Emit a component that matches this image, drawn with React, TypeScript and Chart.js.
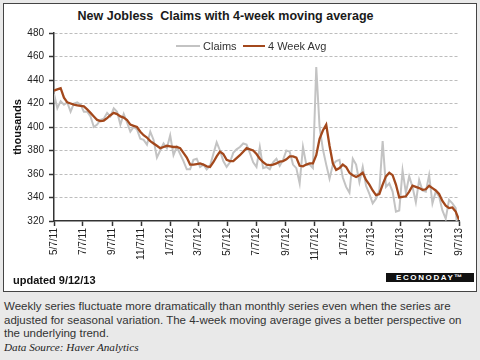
import React, { useEffect, useRef } from "react";
import { Chart, registerables } from "chart.js";

Chart.register(...registerables);

const startDate = "5/7/11";
const tickLabels = ["5/7/11", "7/7/11", "9/7/11", "11/7/11", "1/7/12", "3/7/12", "5/7/12", "7/7/12", "9/7/12", "11/7/12", "1/7/13", "3/7/13", "5/7/13", "7/7/13", "9/7/13"];
const yMin = 320;
const yMax = 480;
const yStep = 20;

// weekly values (thousands), week ending 5/7/11 .. 9/7/13
const claims = [
  428, 416, 422, 419, 421, 413, 420, 421, 419, 413,
  413, 409, 400, 402, 406, 407, 412, 409, 416, 413,
  402, 411, 404, 396, 400, 398, 390, 389, 385, 396,
  389, 374, 380, 386, 382, 393, 376, 383, 377, 371,
  364, 364, 372, 373, 366, 368, 364, 367, 377, 387,
  380, 371, 366, 370, 378, 381, 383, 386, 385, 378,
  370, 366, 383, 365, 366, 364, 370, 373, 367, 372,
  380, 379, 368, 365, 352, 383, 368, 368, 365, 451,
  400, 381, 368, 356, 368, 371, 372, 357, 349, 344,
  373, 368, 353, 366, 350, 343, 335, 339, 346, 388,
  349, 352, 345, 328, 329, 363, 344, 358, 349, 336,
  355, 346, 345, 359, 335, 345, 341, 329, 322, 338,
  335, 331, 292,
];
const avg4 = [
  431, 432, 433, 425, 421, 420, 419, 418.5, 418, 417.5,
  415, 412, 409, 406, 405, 405.5, 407.5, 410, 412, 411,
  409, 408, 406, 402, 401, 400, 396, 393, 391, 388,
  386, 384, 382, 383, 384, 383.5, 383, 383, 382, 378,
  374, 368, 368, 368.5, 369, 368, 366.5, 366, 370, 375,
  379, 377, 372, 371, 371, 373.5, 376, 379, 382, 381,
  380, 377, 373, 370, 368, 367.5, 368, 369, 370.5, 371,
  372.5, 375, 375, 374, 367, 366.5, 368, 369, 369, 376,
  390, 397, 402, 384, 369, 363.5, 365, 368, 366, 361,
  359, 357.5, 359, 361, 355, 351, 346, 342, 343, 351,
  358, 361, 359, 351, 340, 340.5, 341, 345, 350, 349,
  348, 346.5, 347, 350, 348, 346, 343, 337, 333, 331,
  331.5, 328, 321,
];

const titleText = "New Jobless  Claims with 4-week moving average";
const seriesNames = ["Claims", "4 Week Avg"];
const yAxisTitle = "thousands";
const updatedText = "updated 9/12/13";
const logoText = "ECONODAY\u2122";
const noteLines = [
  "Weekly series fluctuate more dramatically than monthly series even when the series are",
  "adjusted for seasonal variation. The 4-week moving average gives a better perspective on",
  "the underlying trend.",
];
const sourceText = "Data Source: Haver Analytics";

const claimsColor = "#c3c3c3";
const avgColor = "#a3481c";
const FONT = 'Arial, "Liberation Sans", sans-serif';

function toUTC(label: string) {
  const [m, d, y] = label.split("/").map(Number);
  return Date.UTC(2000 + y, m - 1, d);
}
const startMs = toUTC(startDate);
const dayOf = (label: string) => Math.round((toUTC(label) - startMs) / 86400000);
const tickDays = tickLabels.map(dayOf);

export default function App() {
  const ref = useRef<HTMLCanvasElement | null>(null);

  useEffect(() => {
    if (!ref.current) return;
    const chart = new Chart(ref.current, {
      type: "line",
      data: {
        datasets: [
          {
            label: seriesNames[0],
            data: claims.map((v, i) => ({ x: i * 7, y: v })),
            borderColor: claimsColor,
            borderWidth: 2,
            pointRadius: 0,
            tension: 0,
            order: 1,
          },
          {
            label: seriesNames[1],
            data: avg4.map((v, i) => ({ x: i * 7, y: v })),
            borderColor: avgColor,
            borderWidth: 2.3,
            pointRadius: 0,
            tension: 0,
            order: 0,
          },
        ],
      },
      options: {
        responsive: false,
        animation: false,
        devicePixelRatio: 1,
        layout: { padding: { top: 33, right: 21, bottom: 0, left: 0 } },
        plugins: {
          legend: { display: false },
          tooltip: { enabled: false },
          title: { display: false },
        },
        scales: {
          x: {
            type: "linear",
            min: 0,
            max: tickDays[tickDays.length - 1],
            afterBuildTicks: (s: any) => {
              s.ticks = tickDays.map((v) => ({ value: v }));
            },
            afterFit: (s: any) => {
              s.height = 79;
            },
            ticks: {
              autoSkip: false,
              maxRotation: 90,
              minRotation: 90,
              padding: 2,
              color: "#222",
              font: { family: FONT, size: 10 },
              callback: (v: any) => {
                const i = tickDays.indexOf(Number(v));
                return i >= 0 ? tickLabels[i] : "";
              },
            },
            grid: {
              drawOnChartArea: false,
              drawTicks: true,
              tickLength: 5,
              tickColor: "#333",
              tickWidth: 1.5,
            },
            border: { display: true, color: "#333", width: 1.5 },
          },
          y: {
            min: yMin,
            max: yMax,
            afterFit: (s: any) => {
              s.width = 54;
            },
            ticks: {
              stepSize: yStep,
              padding: 5,
              color: "#222",
              font: { family: FONT, size: 10 },
            },
            title: {
              display: true,
              text: yAxisTitle,
              color: "#111",
              font: { family: FONT, size: 11, weight: "bold" },
              padding: { top: 11, bottom: 0 },
            },
            grid: {
              color: (c: any) => (c.tick && c.tick.value === yMin ? "rgba(0,0,0,0)" : "#bdbdbd"),
              lineWidth: 1,
              tickLength: 5,
              tickColor: "#333",
              tickWidth: 1.5,
              tickBorderDash: [],
            },
            border: { display: true, color: "#333", width: 1.5, dash: [3, 2] },
          },
        },
      },
    } as any);
    return () => chart.destroy();
  }, []);

  const abs = (s: React.CSSProperties): React.CSSProperties => ({ position: "absolute", ...s });

  return (
    <div style={{ position: "fixed", left: 0, top: 0, width: 480, height: 360, background: "#e9e9e9", overflow: "hidden", fontFamily: FONT }}>
      <div style={abs({ left: 3, top: 3, width: 472, height: 287, background: "#fff", border: "1px solid #444" })} />
      <div style={abs({ left: 0, top: 9, width: 451, textAlign: "center", fontSize: 12.5, lineHeight: "15px", fontWeight: "bold", color: "#1a1a1a", whiteSpace: "pre" })}>
        {titleText}
      </div>
      <canvas ref={ref} width={480} height={300} style={abs({ left: 0, top: 0, width: 480, height: 300 })} />
      <div style={abs({ left: 176, top: 45, width: 24, height: 2, background: claimsColor })} />
      <div style={abs({ left: 203, top: 39, fontSize: 11, lineHeight: "14px", color: "#333" })}>{seriesNames[0]}</div>
      <div style={abs({ left: 243, top: 45, width: 22, height: 2, background: avgColor })} />
      <div style={abs({ left: 268, top: 39, fontSize: 11, lineHeight: "14px", color: "#333" })}>{seriesNames[1]}</div>
      <div style={abs({ left: 13, top: 273, fontSize: 11, lineHeight: "14px", fontWeight: "bold", color: "#111" })}>{updatedText}</div>
      <div style={abs({ left: 386, top: 273, width: 88, height: 9, background: "#111", color: "#fff", fontSize: 8, lineHeight: "9px", fontWeight: "bold", letterSpacing: 1.6, textAlign: "center" })}>
        {logoText}
      </div>
      <div style={abs({ left: 4, top: 300, fontSize: 11.5, lineHeight: "13.5px", color: "#333", whiteSpace: "nowrap" })}>
        {noteLines.map((l, i) => (
          <div key={i}>{l}</div>
        ))}
        <div style={{ fontFamily: '"Liberation Serif", "Times New Roman", serif', fontStyle: "italic", fontSize: 11.2, color: "#222" }}>{sourceText}</div>
      </div>
    </div>
  );
}
